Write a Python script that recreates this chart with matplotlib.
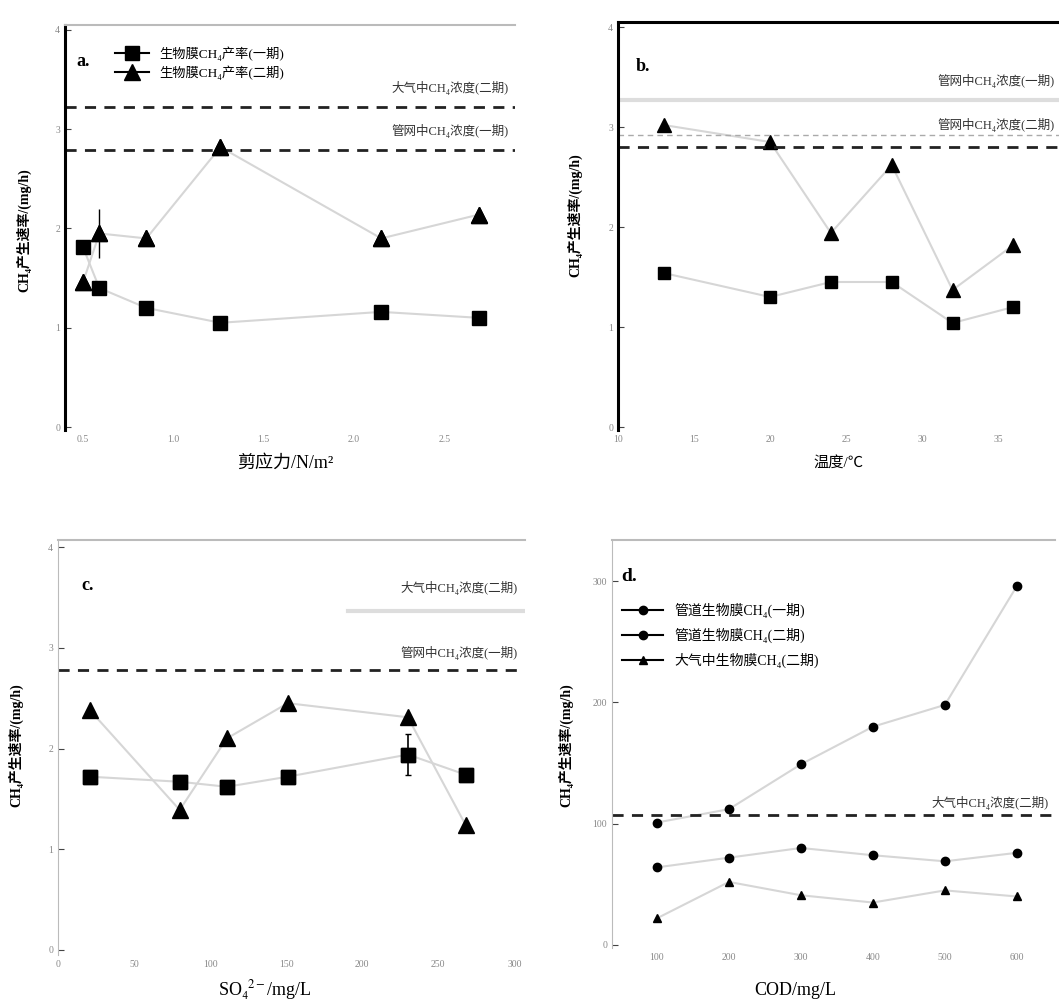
import matplotlib
matplotlib.use('Agg')
import matplotlib.pyplot as plt

plt.rcParams['font.family'] = ['Liberation Serif', 'Noto Sans CJK SC', 'DejaVu Sans']
plt.rcParams['axes.unicode_minus'] = False
plt.rcParams['mathtext.fontset'] = 'stix'

# a: shear stress
shear = [0.5, 0.59, 0.85, 1.26, 2.15, 2.69]
a_p1 = [1.81, 1.40, 1.20, 1.05, 1.16, 1.10]
a_p2 = [1.46, 1.95, 1.90, 2.82, 1.90, 2.14]
a_err2 = [0, 0.25, 0, 0, 0, 0]
a_ref = [3.22, 2.79]

# b: temperature
temp = [13, 20, 24, 28, 32, 36]
b_p1 = [1.54, 1.30, 1.45, 1.45, 1.04, 1.20]
b_p2 = [3.02, 2.85, 1.94, 2.62, 1.37, 1.82]
b_ref = [3.27, 2.80]

# c: sulfate
so4 = [21, 80, 111, 151, 230, 268]
c_p1 = [1.72, 1.67, 1.62, 1.72, 1.94, 1.74]
c_p2 = [2.38, 1.39, 2.10, 2.45, 2.31, 1.24]
c_err1 = [0, 0, 0, 0, 0.2, 0]
c_ref = [3.37, 2.78]

# d: COD
cod = [100, 200, 300, 400, 500, 600]
d_s1 = [101, 112, 149, 180, 198, 296]
d_s2 = [64, 72, 80, 74, 69, 76]
d_s3 = [22, 52, 41, 35, 45, 40]
d_ref = 107

names = ['生物膜CH₄产率(一期)', '生物膜CH₄产率(二期)']
d_names = ['管道生物膜CH₄(一期)', '管道生物膜CH₄(二期)', '大气中生物膜CH₄(二期)']

W, H = 1059, 1005
fig = plt.figure(figsize=(W / 100, H / 100), dpi=100)


def ax_px(l, t, r, b):
    return fig.add_axes([l / W, 1 - b / H, (r - l) / W, (b - t) / H])


def style(ax, left_lw, top_col, top_lw):
    ax.spines['right'].set_visible(False)
    ax.spines['bottom'].set_visible(False)
    ax.spines['left'].set_linewidth(left_lw)
    ax.spines['left'].set_color('black' if left_lw > 1 else '#bbbbbb')
    ax.spines['top'].set_color(top_col)
    ax.spines['top'].set_linewidth(top_lw)
    ax.tick_params(axis='both', direction='in', labelsize=7, labelcolor='#888888',
                   length=4, color='#444444')
    ax.tick_params(axis='x', length=0)


line_kw = dict(color='#d6d6d6', lw=1.5)

# ---- a
ax = ax_px(65, 25, 515, 430)
style(ax, 2.2, '#bbbbbb', 1.5)
ax.plot(shear, a_p1, marker='s', ms=10, mfc='black', mec='black', label=names[0], **line_kw)
ax.errorbar(shear, a_p2, yerr=a_err2, fmt='^', ms=11, color='black', ecolor='black',
            capsize=0, elinewidth=1, zorder=3)
ax.plot(shear, a_p2, marker='^', ms=11, mfc='black', mec='black', label=names[1], **line_kw)
for y in a_ref:
    ax.axhline(y, color='#222222', ls='--', lw=2, dashes=(4, 3))
ax.text(0.985, a_ref[0] + 0.12, '大气中CH₄浓度(二期)', transform=ax.get_yaxis_transform(),
        ha='right', va='bottom', fontsize=9, color='#333333')
ax.text(0.985, a_ref[1] + 0.12, '管网中CH₄浓度(一期)', transform=ax.get_yaxis_transform(),
        ha='right', va='bottom', fontsize=9, color='#333333')
ax.set_xlim(0.40, 2.89)
ax.set_ylim(-0.03, 4.05)
ax.set_xticks([0.5, 1.0, 1.5, 2.0, 2.5])
ax.set_yticks([0, 1, 2, 3, 4])
leg = ax.legend(loc='upper left', bbox_to_anchor=(0.09, 0.97), frameon=False, fontsize=9.5,
                handlelength=2.6, borderaxespad=0.3, labelspacing=0.35)
for h in leg.legend_handles:
    h.set_color('black')
    h.set_linewidth(1.5)
ax.text(0.025, 0.9, 'a.', transform=ax.transAxes, fontsize=13, fontweight='bold')
fig.text(285 / W, 1 - 463 / H, '剪应力/N/m²', ha='center', va='center', fontsize=13)
fig.text(24 / W, 1 - 230 / H, 'CH₄产生速率/(mg/h)', rotation=90, ha='center', va='center',
         fontsize=10, fontweight='bold')

# ---- b
ax = ax_px(618, 22, 1059, 430)
style(ax, 2.2, 'black', 2.2)
ax.plot(temp, b_p1, marker='s', ms=9, mfc='black', mec='black', **line_kw)
ax.plot(temp, b_p2, marker='^', ms=10, mfc='black', mec='black', **line_kw)
ax.axhline(b_ref[0], color='#dddddd', ls='-', lw=3)
ax.axhline(b_ref[1], color='#222222', ls='--', lw=2, dashes=(4, 3))
ax.axhline(b_ref[1] + 0.12, color='#aaaaaa', ls='--', lw=1, dashes=(4, 3))
ax.text(0.99, b_ref[0] + 0.12, '管网中CH₄浓度(一期)', transform=ax.get_yaxis_transform(),
        ha='right', va='bottom', fontsize=9, color='#333333')
ax.text(0.99, b_ref[1] + 0.15, '管网中CH₄浓度(二期)', transform=ax.get_yaxis_transform(),
        ha='right', va='bottom', fontsize=9, color='#333333')
ax.set_xlim(10, 39)
ax.set_ylim(-0.03, 4.05)
ax.set_xticks([10, 15, 20, 25, 30, 35])
ax.set_yticks([0, 1, 2, 3, 4])
ax.text(0.04, 0.88, 'b.', transform=ax.transAxes, fontsize=13, fontweight='bold')
fig.text(838 / W, 1 - 463 / H, '温度/℃', ha='center', va='center', fontsize=11)
fig.text(575 / W, 1 - 215 / H, 'CH₄产生速率/(mg/h)', rotation=90, ha='center', va='center',
         fontsize=10, fontweight='bold')

# ---- c
ax = ax_px(58, 540, 525, 955)
style(ax, 0.8, '#bbbbbb', 1.5)
ax.plot(so4, c_p2, marker='^', ms=11, mfc='black', mec='black', **line_kw)
ax.errorbar(so4, c_p1, yerr=c_err1, fmt='s', ms=10, color='black', ecolor='black',
            capsize=2, elinewidth=1.2, zorder=3)
ax.plot(so4, c_p1, marker='s', ms=10, mfc='black', mec='black', **line_kw)
ax.axhline(c_ref[0], xmin=0.62, color='#dddddd', ls='-', lw=3)
ax.axhline(c_ref[1], color='#222222', ls='--', lw=2, dashes=(4, 3))
ax.text(0.985, c_ref[0] + 0.15, '大气中CH₄浓度(二期)', transform=ax.get_yaxis_transform(),
        ha='right', va='bottom', fontsize=9, color='#333333')
ax.text(0.985, c_ref[1] + 0.1, '管网中CH₄浓度(一期)', transform=ax.get_yaxis_transform(),
        ha='right', va='bottom', fontsize=9, color='#333333')
ax.set_xlim(0, 307)
ax.set_ylim(-0.05, 4.07)
ax.set_xticks([0, 50, 100, 150, 200, 250, 300])
ax.set_yticks([0, 1, 2, 3, 4])
ax.text(0.05, 0.88, 'c.', transform=ax.transAxes, fontsize=13, fontweight='bold')
fig.text(265 / W, 1 - 990 / H, 'SO₄$^{2-}$/mg/L', ha='center', va='center', fontsize=13)
fig.text(16 / W, 1 - 745 / H, 'CH₄产生速率/(mg/h)', rotation=90, ha='center', va='center',
         fontsize=10, fontweight='bold')

# ---- d
ax = ax_px(612, 540, 1055, 948)
style(ax, 0.8, '#bbbbbb', 1.5)
ax.plot(cod, d_s1, marker='o', ms=6, mfc='black', mec='black', label=d_names[0], **line_kw)
ax.plot(cod, d_s2, marker='o', ms=6, mfc='black', mec='black', label=d_names[1], **line_kw)
ax.plot(cod, d_s3, marker='^', ms=6, mfc='black', mec='black', label=d_names[2], **line_kw)
ax.axhline(d_ref, color='#222222', ls='--', lw=2, dashes=(4, 3))
ax.text(0.985, d_ref + 4, '大气中CH₄浓度(二期)', transform=ax.get_yaxis_transform(),
        ha='right', va='bottom', fontsize=9, color='#333333')
ax.set_xlim(37.5, 653)
ax.set_ylim(-2.5, 334)
ax.set_xticks(cod)
ax.set_yticks([0, 100, 200, 300])
leg = ax.legend(loc='upper left', bbox_to_anchor=(0.0, 0.87), frameon=False, fontsize=10,
                handlelength=3, borderaxespad=0.3, labelspacing=0.7)
for h in leg.legend_handles:
    h.set_color('black')
    h.set_linewidth(1.5)
ax.text(0.02, 0.9, 'd.', transform=ax.transAxes, fontsize=14, fontweight='bold')
fig.text(795 / W, 1 - 990 / H, 'COD/mg/L', ha='center', va='center', fontsize=13)
fig.text(566 / W, 1 - 745 / H, 'CH₄产生速率/(mg/h)', rotation=90, ha='center', va='center',
         fontsize=10, fontweight='bold')

fig.savefig('out.png', dpi=100)
